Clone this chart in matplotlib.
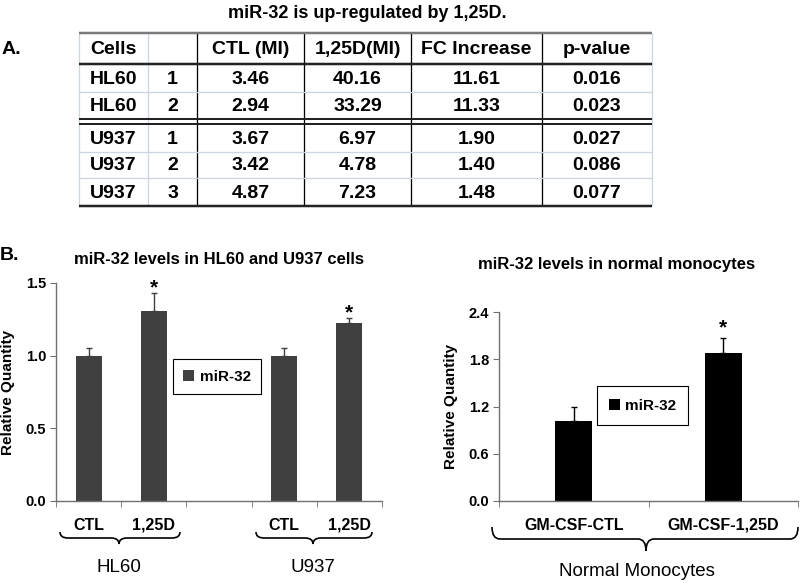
import numpy as np
import matplotlib
matplotlib.use('Agg')
from matplotlib import pyplot as plt
from matplotlib.path import Path
from matplotlib.patches import PathPatch

plt.rcParams['font.family'] = ['Liberation Sans', 'DejaVu Sans']

# table A
cells = ['HL60', 'HL60', 'U937', 'U937', 'U937']
reps = ['1', '2', '1', '2', '3']
ctl_mi = [3.46, 2.94, 3.67, 3.42, 4.87]
d_mi = [40.16, 33.29, 6.97, 4.78, 7.23]
fc_increase = [11.61, 11.33, 1.90, 1.40, 1.48]
p_values = [0.016, 0.023, 0.027, 0.086, 0.077]
headers = ['Cells', '', 'CTL (MI)', '1,25D(MI)', 'FC Increase', 'p-value']

# panel B left
cell_labels = ['CTL', '1,25D', '', 'CTL', '1,25D']
cell_values = [1.00, 1.31, np.nan, 1.00, 1.225]
cell_errors = [0.05, 0.12, np.nan, 0.05, 0.035]
cell_signif = [False, True, False, False, True]
cell_groups = ['HL60', 'U937']

# panel B right
mono_labels = ['GM-CSF-CTL', 'GM-CSF-1,25D']
mono_values = [1.02, 1.885]
mono_errors = [0.17, 0.18]
mono_signif = [False, True]

fig = plt.figure(figsize=(8, 5.83), dpi=100)

ov = fig.add_axes([0, 0, 1, 1])
ov.set_xlim(0, 800)
ov.set_ylim(583, 0)
ov.axis('off')


def px(v):
    return v * 0.72


def brace(ax, x0, x1, xm, ytop, ybot):
    ymid = (ytop + ybot) / 2
    q = 8
    verts = [(x0, ytop), (x0, ymid), (x0 + q, ymid),
             (xm - q, ymid),
             (xm, ymid), (xm, ybot),
             (xm, ymid), (xm + q, ymid),
             (x1 - q, ymid),
             (x1, ymid), (x1, ytop)]
    codes = [Path.MOVETO, Path.CURVE3, Path.CURVE3,
             Path.LINETO,
             Path.CURVE3, Path.CURVE3,
             Path.CURVE3, Path.CURVE3,
             Path.LINETO,
             Path.CURVE3, Path.CURVE3]
    ax.add_patch(PathPatch(Path(verts, codes), fill=False, lw=1.2, color='black'))


# ---- titles / panel letters
ov.text(367, 13, 'miR-32 is up-regulated by 1,25D.', ha='center', va='center',
        fontsize=13, fontweight='bold')
ov.text(2, 50, 'A.', ha='left', va='center', fontsize=14, fontweight='bold')
ov.text(0, 255, 'B.', ha='left', va='center', fontsize=14, fontweight='bold')

# ---- table
col_x = [79, 148, 197, 304, 411, 542, 652]
row_y = [33, 64, 92, 119, 124, 152, 178, 206]
light = '#cdd5e3'

for i in range(len(col_x)):
    c = light if i in (0, 1, 6) else 'black'
    ov.vlines(col_x[i], row_y[0], row_y[-1], color=c, lw=px(1.3))
ov.hlines(row_y[0], col_x[0], col_x[-1], color='#7a7a7a', lw=px(2.5))
ov.hlines(row_y[1], col_x[0], col_x[-1], color='#222222', lw=px(2.5))
ov.hlines([row_y[2], row_y[5], row_y[6]], col_x[0], col_x[-1], color=light, lw=px(1.3))
ov.hlines([row_y[3], row_y[4]], col_x[0], col_x[-1], color='#222222', lw=px(2))
ov.hlines(row_y[7], col_x[0], col_x[-1], color='#222222', lw=px(2.5))

centers_x = [(col_x[i] + col_x[i + 1]) / 2 for i in range(6)]
tk = dict(ha='center', va='center', fontsize=14, fontweight='bold')
for j, h in enumerate(headers):
    ov.text(centers_x[j], (row_y[0] + row_y[1]) / 2 + 1, h, **tk)
body_y = [(row_y[1] + row_y[2]) / 2, (row_y[2] + row_y[3]) / 2,
          (row_y[4] + row_y[5]) / 2, (row_y[5] + row_y[6]) / 2,
          (row_y[6] + row_y[7]) / 2]
for r in range(len(cells)):
    vals = [cells[r], reps[r], f'{ctl_mi[r]:.2f}', f'{d_mi[r]:.2f}',
            f'{fc_increase[r]:.2f}', f'{p_values[r]:.3f}']
    for j, v in enumerate(vals):
        ov.text(centers_x[j], body_y[r] + 1, v, **tk)

# ---- left bar chart
ax1 = fig.add_axes([56 / 800, 1 - 501 / 583, 326 / 800, 218 / 583])
xs = np.arange(len(cell_labels))
ax1.bar(xs, cell_values, width=0.4, color='#404040', label='miR-32', zorder=2)
ax1.errorbar(xs, cell_values, yerr=[np.zeros(len(xs)), cell_errors], fmt='none',
             ecolor='#404040', elinewidth=1, capsize=2.5, capthick=1)
for x, v, e, s in zip(xs, cell_values, cell_errors, cell_signif):
    if s:
        ax1.annotate('*', (x, v + e), xytext=(0, -3), textcoords='offset points',
                     ha='center', va='bottom', fontsize=15, fontweight='bold')
ax1.set_xlim(-0.5, len(xs) - 0.5)
ax1.set_ylim(0, 1.5)
ax1.set_yticks([0, 0.5, 1.0, 1.5])
ax1.set_yticklabels(['0.0', '0.5', '1.0', '1.5'])
ax1.set_xticks(xs)
ax1.set_xticklabels(cell_labels)
ax1.set_xticks(np.arange(-0.5, len(xs)), minor=True)
ax1.set_title('miR-32 levels in HL60 and U937 cells', fontsize=12, fontweight='bold',
              pad=14)
ax1.set_ylabel('Relative Quantity', fontsize=11, fontweight='bold', labelpad=8)
ax1.legend(loc='center', bbox_to_anchor=(0.494, 0.571), fancybox=False,
           edgecolor='black', framealpha=1, handlelength=0.7, handleheight=0.7,
           handletextpad=0.35, borderpad=0.7,
           prop={'size': 11, 'weight': 'bold'}).get_frame().set_linewidth(0.8)

# ---- right bar chart
ax2 = fig.add_axes([499 / 800, 1 - 501 / 583, 299 / 800, 189 / 583])
xs2 = np.arange(len(mono_labels))
ax2.bar(xs2, mono_values, width=0.25, color='black', label='miR-32', zorder=2)
ax2.errorbar(xs2, mono_values, yerr=[np.zeros(len(xs2)), mono_errors], fmt='none',
             ecolor='black', elinewidth=1, capsize=2.5, capthick=1)
for x, v, e, s in zip(xs2, mono_values, mono_errors, mono_signif):
    if s:
        ax2.annotate('*', (x, v + e), xytext=(0, 1), textcoords='offset points',
                     ha='center', va='bottom', fontsize=15, fontweight='bold')
ax2.set_xlim(-0.5, len(xs2) - 0.5)
ax2.set_ylim(0, 2.4)
ax2.set_yticks([0, 0.6, 1.2, 1.8, 2.4])
ax2.set_yticklabels(['0.0', '0.6', '1.2', '1.8', '2.4'])
ax2.set_xticks(xs2)
ax2.set_xticklabels(mono_labels)
ax2.set_xticks(np.arange(-0.5, len(xs2)), minor=True)
ax2.set_ylabel('Relative Quantity', fontsize=11, fontweight='bold', labelpad=8)
ax2.legend(loc='center', bbox_to_anchor=(0.48, 0.505), fancybox=False,
           edgecolor='black', framealpha=1, handlelength=0.7, handleheight=0.7,
           handletextpad=0.35, borderpad=0.8,
           prop={'size': 11, 'weight': 'bold'}).get_frame().set_linewidth(0.8)

for ax in (ax1, ax2):
    for s in ('top', 'right'):
        ax.spines[s].set_visible(False)
    for s in ('left', 'bottom'):
        ax.spines[s].set_color('#707070')
        ax.spines[s].set_linewidth(1)
    ax.tick_params(axis='y', direction='out', length=4, color='#707070', labelsize=10.5, pad=3)
    ax.tick_params(axis='x', which='major', length=0, labelsize=11.5, pad=12)
    ax.tick_params(axis='x', which='minor', direction='out', length=4, color='#707070')
    for lab in ax.get_xticklabels() + ax.get_yticklabels():
        lab.set_fontweight('bold')

ov.text(617, 264, 'miR-32 levels in normal monocytes', ha='center', va='center',
        fontsize=12, fontweight='bold')

# ---- braces and group labels
brace(ov, 60, 180, 119, 532, 544)
brace(ov, 256, 372, 313, 532, 544)
brace(ov, 492, 798, 646, 527, 551)
ov.text(119, 567, cell_groups[0], ha='center', va='center', fontsize=13.5)
ov.text(313, 567, cell_groups[1], ha='center', va='center', fontsize=13.5)
ov.text(637, 572, 'Normal Monocytes', ha='center', va='center', fontsize=13.5)

fig.savefig('out.png', dpi=100)
